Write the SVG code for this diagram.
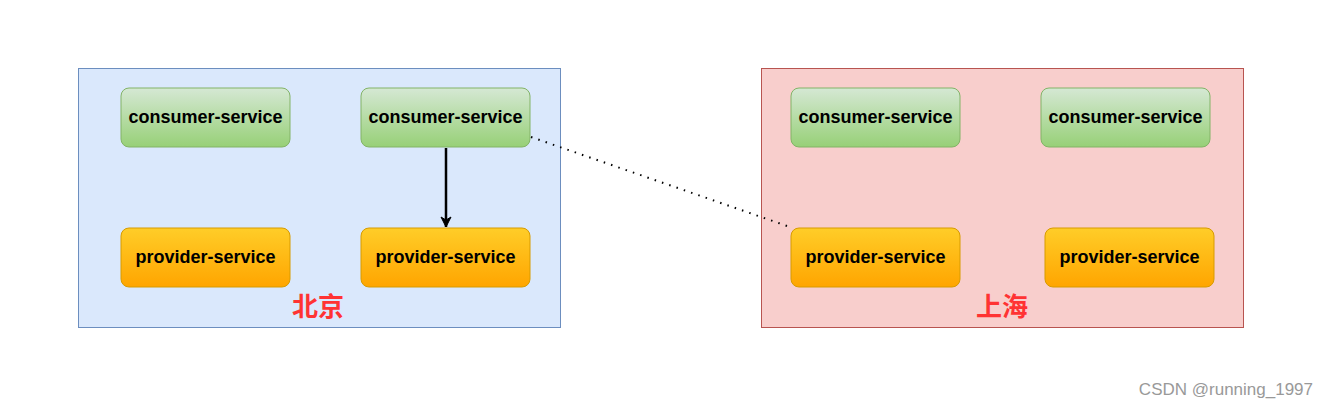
<svg xmlns="http://www.w3.org/2000/svg" width="1329" height="409" viewBox="0 0 1329 409">
<defs>
<linearGradient id="gGreen" x1="0" y1="0" x2="0" y2="1"><stop offset="0" stop-color="#d5e8d4"/><stop offset="1" stop-color="#97d077"/></linearGradient>
<linearGradient id="gOrange" x1="0" y1="0" x2="0" y2="1"><stop offset="0" stop-color="#ffcd28"/><stop offset="1" stop-color="#ffa500"/></linearGradient>
<marker id="arrow" viewBox="0 0 12 12" refX="11" refY="6" markerWidth="12" markerHeight="12" markerUnits="userSpaceOnUse" orient="auto"><path d="M1,1 L11,6 L1,11 L4,6 Z" fill="#000" stroke="#000" stroke-width="1"/></marker>
<style>
.cons rect{fill:url(#gGreen);stroke:#82b366;stroke-width:1}
.prov rect{fill:url(#gOrange);stroke:#d79b00;stroke-width:1}
.lbl{font-family:"Liberation Sans",Arial,sans-serif;font-weight:bold;font-size:18px;fill:#000;text-anchor:middle;dominant-baseline:central}
.city{font-family:"Liberation Sans","Noto Sans CJK SC",sans-serif;font-weight:bold;font-size:26px;fill:#ff3333;text-anchor:middle}
</style>
</defs>
<rect width="1329" height="409" fill="#fff"/>
<g id="beijing"><rect x="78.500" y="68.500" width="482" height="259" fill="#dae8fc" stroke="#6c8ebf"/><text class="city" x="318" y="316">北京</text></g>
<g id="shanghai"><rect x="761.500" y="68.500" width="482" height="259" fill="#f8cecc" stroke="#b85450"/><text class="city" x="1002" y="316">上海</text></g>
<g id="bj-consumer-1" class="cons"><rect x="121" y="88" width="169" height="59" rx="8"/><text class="lbl" x="205.500" y="117">consumer-service</text></g>
<g id="bj-consumer-2" class="cons"><rect x="361" y="88" width="169" height="59" rx="8"/><text class="lbl" x="445.500" y="117">consumer-service</text></g>
<g id="bj-provider-1" class="prov"><rect x="121" y="228" width="169" height="59" rx="8"/><text class="lbl" x="205.500" y="257">provider-service</text></g>
<g id="bj-provider-2" class="prov"><rect x="361" y="228" width="169" height="59" rx="8"/><text class="lbl" x="445.500" y="257">provider-service</text></g>
<g id="sh-consumer-1" class="cons"><rect x="791" y="88" width="169" height="59" rx="8"/><text class="lbl" x="875.500" y="117">consumer-service</text></g>
<g id="sh-consumer-2" class="cons"><rect x="1041" y="88" width="169" height="59" rx="8"/><text class="lbl" x="1125.500" y="117">consumer-service</text></g>
<g id="sh-provider-1" class="prov"><rect x="791" y="228" width="169" height="59" rx="8"/><text class="lbl" x="875.500" y="257">provider-service</text></g>
<g id="sh-provider-2" class="prov"><rect x="1045" y="228" width="169" height="59" rx="8"/><text class="lbl" x="1129.500" y="257">provider-service</text></g>
<g id="connectors">
<line x1="446" y1="148" x2="446" y2="227" stroke="#000" stroke-width="2.500" marker-end="url(#arrow)"/>
<line x1="531" y1="137" x2="790" y2="227" stroke="#000" stroke-width="2" stroke-dasharray="1.500 6.200"/>
</g>
<text x="1313" y="395" font-family="'Liberation Sans',Arial,sans-serif" font-size="17" fill="#999" text-anchor="end">CSDN @running_1997</text>
</svg>
